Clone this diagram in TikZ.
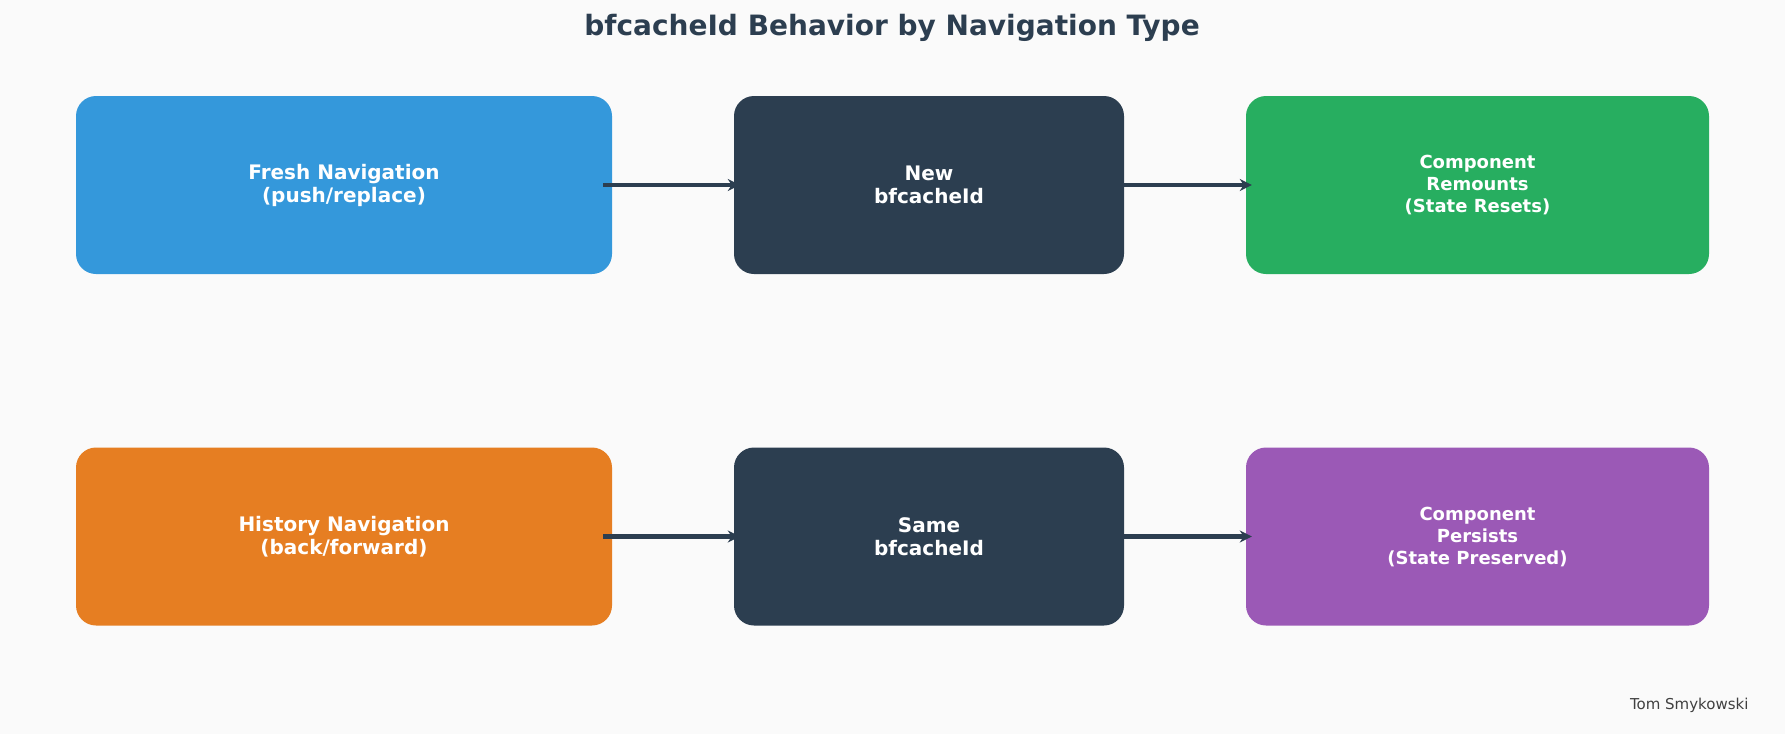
\documentclass[tikz,border=0pt]{standalone}
\usepackage{fontspec}
\setmainfont{DejaVu Sans}
\usetikzlibrary{arrows.meta,positioning}
\definecolor{bgc}{HTML}{FAFAFA}
\definecolor{navblue}{HTML}{3498DB}
\definecolor{navdark}{HTML}{2C3E50}
\definecolor{navgreen}{HTML}{27AE60}
\definecolor{navorange}{HTML}{E67E22}
\definecolor{navpurple}{HTML}{9B59B6}
\begin{document}
\begin{tikzpicture}[x=1pt,y=-1pt]
\tikzstyle{box}=[rectangle, rounded corners=20pt, draw=none, text=white,
	align=center, minimum height=178pt, inner sep=0pt,
	font=\bfseries\fontsize{20}{23}\selectfont]
\tikzstyle{small}=[font=\bfseries\fontsize{18}{22}\selectfont]
\tikzstyle{flow}=[line width=4.5pt, draw=navdark, -{Stealth[length=12pt,width=12pt]}]
\fill[bgc] (0,0) rectangle (1785,734);
\node[font=\bfseries\fontsize{28}{32}\selectfont, text=navdark] (title) at (892,28) {bfcacheId Behavior by Navigation Type};
% fresh navigation
\node[box, fill=navblue, minimum width=536pt] (fresh) at (344,185) {Fresh Navigation\\(push/replace)};
\node[box, fill=navdark, minimum width=390pt] (newid) at (929,185) {New\\bfcacheId};
\node[box, small, fill=navgreen, minimum width=463pt] (remount) at (1477.5,185) {Component\\Remounts\\(State Resets)};
% history navigation
\node[box, fill=navorange, minimum width=536pt] (hist) at (344,536.5) {History Navigation\\(back/forward)};
\node[box, fill=navdark, minimum width=390pt] (sameid) at (929,536.5) {Same\\bfcacheId};
\node[box, small, fill=navpurple, minimum width=463pt] (persist) at (1477.5,536.5) {Component\\Persists\\(State Preserved)};
\path[flow] ([xshift=-9pt]fresh.east) -- ([xshift=6pt]newid.west);
\path[flow] (newid.east) -- ([xshift=6pt]remount.west);
\path[flow] ([xshift=-9pt]hist.east) -- ([xshift=6pt]sameid.west);
\path[flow] (sameid.east) -- ([xshift=6pt]persist.west);
\node[anchor=east, text=black!75, font=\fontsize{15}{18}\selectfont] (author) at (1752,705) {Tom Smykowski};
\end{tikzpicture}
\end{document}
